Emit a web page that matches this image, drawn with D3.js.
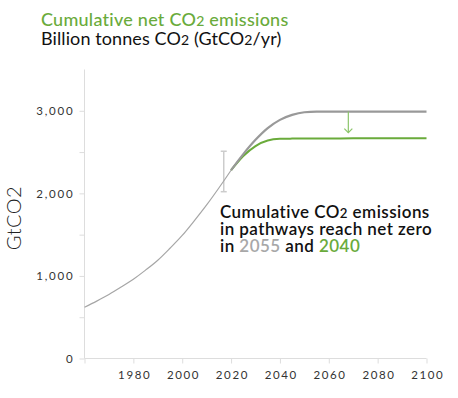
<!DOCTYPE html>
<html>
<head>
<meta charset="utf-8">
<script src="https://cdn.jsdelivr.net/npm/d3@7"></script>
<style>
  body { margin: 0; background: #fff; }
  svg { display: block; font-family: Lato, "Open Sans", sans-serif; }
  text { white-space: pre; }
</style>
</head>
<body>
<svg id="chart" width="458" height="398"></svg>
<script>
// cumulative emissions (GtCO2)
const histYears = [1960, 1965, 1970, 1975, 1980, 1985, 1990, 1995, 2000, 2005, 2010, 2015, 2020]
const histValues = [620, 695, 775, 865, 960, 1070, 1190, 1335, 1490, 1670, 1860, 2065, 2280]

const pathYears = [2020, 2025, 2030, 2035, 2040, 2045, 2050, 2055, 2060, 2070, 2080, 2090, 2100]
const greyPath = [2280, 2475, 2648, 2790, 2890, 2950, 2982, 2990, 2990, 2990, 2990, 2990, 2990]
const greenPath = [2280, 2452, 2573, 2640, 2660, 2663, 2664, 2665, 2665, 2666, 2667, 2667, 2667]

const errorBar = { year: 2017, low: 2020, high: 2510 }
const arrow = { year: 2068, from: 2990, to: 2735 }

const xTicks = [1960, 1980, 2000, 2020, 2040, 2060, 2080, 2100]
const yTicks = [0, 500, 1000, 1500, 2000, 2500, 3000]
const yLabelled = [0, 1000, 2000, 3000]

const green = '#6aab3b'
const lightGreen = '#8cc56a'
const axisGrey = '#dddddd'

const svg = d3.select('#chart')

const x = d3.scaleLinear().domain([1960, 2100]).range([84.5, 426.5])
const y = d3.scaleLinear().domain([0, 3500]).range([358.5, 69.5])

// writes a line as a row of separate text pieces, each one after the last
function textRun (x0, y0, parts, style) {
    let cx = x0
    parts.forEach(p => {
        const t = svg.append('text')
            .attr('x', cx).attr('y', y0)
            .attr('fill', p.fill || style.fill)
            .attr('font-size', p.small ? style.size * 0.78 : style.size)
            .attr('font-weight', style.weight)
            .attr('letter-spacing', style.spacing)
            .text(p.t)
        cx += t.node().getComputedTextLength()
    })
}

// titles
textRun(41, 26, [{ t: 'Cumulative net CO' }, { t: '2', small: true }, { t: ' emissions' }],
    { fill: green, size: 18, weight: 500, spacing: 0.25 })
textRun(41, 45, [{ t: 'Billion tonnes CO' }, { t: '2', small: true }, { t: ' (GtCO' },
    { t: '2', small: true }, { t: '/yr)' }],
    { fill: '#111', size: 18, weight: 400, spacing: 0.1 })

// y axis
const yAxis = svg.append('g')
    .attr('transform', `translate(${x(1960)},0)`)
    .call(d3.axisLeft(y).tickValues(yTicks).tickSize(5).tickPadding(5)
        .tickFormat(d => yLabelled.includes(d) ? d3.format(',')(d) : ''))
yAxis.select('.domain').attr('stroke', axisGrey).attr('d', `M0,${y(3500)}V${y(0)}`)
yAxis.selectAll('.tick line').attr('stroke', axisGrey)
yAxis.selectAll('.tick text').attr('fill', '#333').attr('font-size', 11.5)
    .attr('font-family', 'Lato').attr('letter-spacing', 1.8)

// x axis
const xAxis = svg.append('g')
    .attr('transform', `translate(0,${y(0)})`)
    .call(d3.axisBottom(x).tickValues(xTicks).tickSize(5).tickPadding(7)
        .tickFormat(d => d === 1960 ? '' : d))
xAxis.select('.domain').attr('stroke', axisGrey).attr('d', `M${x(1960)},0H${x(2100)}`)
xAxis.selectAll('.tick line').attr('stroke', axisGrey)
xAxis.selectAll('.tick text').attr('fill', '#333').attr('font-size', 11.5)
    .attr('font-family', 'Lato').attr('letter-spacing', 1.6)
    .attr('dx', 0.8)

svg.append('text')
    .attr('transform', `translate(21,${(y(0) + y(3500)) / 2 + 4}) rotate(-90)`)
    .attr('text-anchor', 'middle')
    .attr('fill', '#222')
    .attr('font-size', 20)
    .attr('font-weight', 300)
    .attr('letter-spacing', 0.5)
    .text('GtCO2')

// error bar
const eb = svg.append('g').attr('stroke', '#cccccc').attr('stroke-width', 1.5)
eb.append('line').attr('x1', x(errorBar.year)).attr('x2', x(errorBar.year))
    .attr('y1', y(errorBar.low)).attr('y2', y(errorBar.high))
eb.selectAll('line.cap').data([errorBar.low, errorBar.high]).enter().append('line')
    .attr('class', 'cap')
    .attr('x1', x(errorBar.year) - 3).attr('x2', x(errorBar.year) + 3)
    .attr('y1', d => y(d)).attr('y2', d => y(d))

const line = d3.line()
    .x(d => x(d[0]))
    .y(d => y(d[1]))
    .curve(d3.curveMonotoneX)

svg.append('path')
    .datum(histYears.map((yr, i) => [yr, histValues[i]]))
    .attr('fill', 'none').attr('stroke', '#a6a6a6').attr('stroke-width', 1.2)
    .attr('d', line)

svg.append('path')
    .datum(pathYears.map((yr, i) => [yr, greenPath[i]]))
    .attr('fill', 'none').attr('stroke', green).attr('stroke-width', 2)
    .attr('d', line)

svg.append('path')
    .datum(pathYears.map((yr, i) => [yr, greyPath[i]]))
    .attr('fill', 'none').attr('stroke', '#999999').attr('stroke-width', 2.2)
    .attr('d', line)

// arrow between the two plateaus
const ax = x(arrow.year)
svg.append('line')
    .attr('x1', ax).attr('x2', ax)
    .attr('y1', y(arrow.from)).attr('y2', y(arrow.to))
    .attr('stroke', lightGreen).attr('stroke-width', 1.2)
svg.append('path')
    .attr('d', `M${ax - 4},${y(arrow.to) - 4}L${ax},${y(arrow.to)}L${ax + 4},${y(arrow.to) - 4}`)
    .attr('fill', 'none').attr('stroke', lightGreen).attr('stroke-width', 1.2)

// annotation
const noteStyle = { fill: '#111', size: 17, weight: 600, spacing: 0.45 }
textRun(220, 217.5, [{ t: 'Cumulative CO' }, { t: '2', small: true }, { t: ' emissions' }], noteStyle)
textRun(220, 234.5, [{ t: 'in pathways reach net zero' }], noteStyle)
textRun(220, 251.5, [{ t: 'in ' }, { t: '2055', fill: '#a8a8a8' }, { t: ' and ' },
    { t: '2040', fill: green }], noteStyle)
</script>
</body>
</html>
